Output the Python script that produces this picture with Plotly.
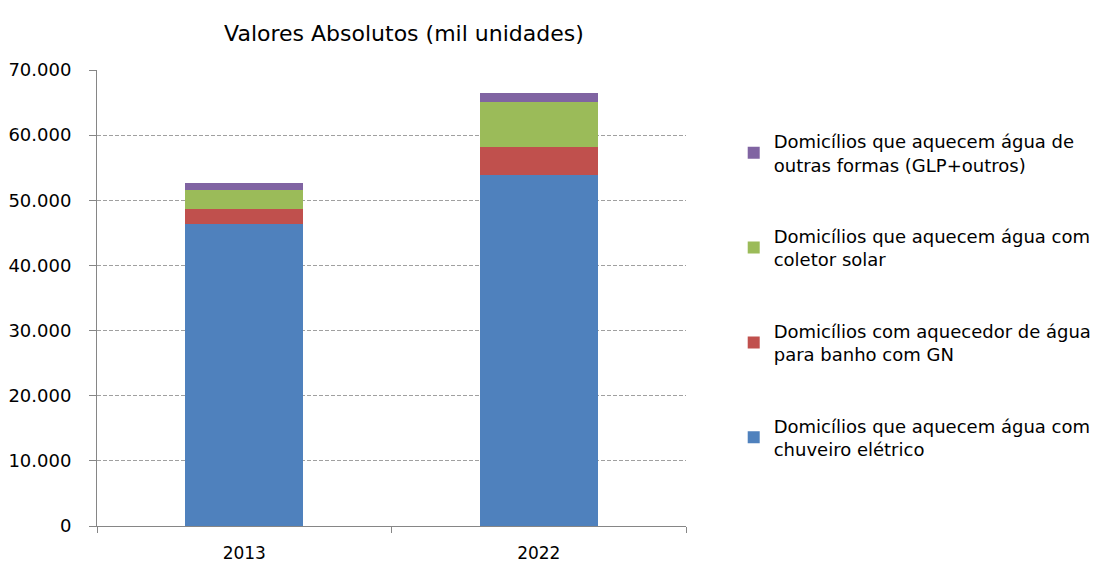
import plotly.graph_objects as go

years = ["2013", "2022"]
series_names = [
    "Domicílios que aquecem água com<br>chuveiro elétrico",
    "Domicílios com aquecedor de água<br>para banho com GN",
    "Domicílios que aquecem água com<br>coletor solar",
    "Domicílios que aquecem água de<br>outras formas (GLP+outros)",
]
chuveiro = [46400, 53850]
gn = [2250, 4300]
solar = [2950, 7000]
outros = [1050, 1300]
colors = ["#4F81BD", "#C0504D", "#9BBB59", "#8064A2"]
legend_ranks = [4, 3, 2, 1]
yticks = [0, 10000, 20000, 30000, 40000, 50000, 60000, 70000]

fig = go.Figure()
for i, (name, vals) in enumerate(zip(series_names, [chuveiro, gn, solar, outros])):
    fig.add_trace(go.Bar(
        x=years, y=vals, name=name, legendgroup=str(i), legendrank=legend_ranks[i],
        marker=dict(color=colors[i], line=dict(width=0)),
    ))

FONT = "DejaVu Sans, sans-serif"
fig.update_layout(
    barmode="stack",
    bargap=0.6,
    width=1095, height=555,
    paper_bgcolor="white", plot_bgcolor="white",
    margin=dict(l=89, r=417, t=62, b=37, autoexpand=False),
    separators=",.",
    font=dict(family=FONT, size=17, color="#000"),
    title=dict(text="Valores Absolutos (mil unidades)", xref="container", x=0.3616,
               xanchor="center", yref="container", y=0.955, yanchor="middle",
               font=dict(size=22, color="#000")),
    legend=dict(x=1.081, xanchor="left", y=0.884, yanchor="top",
                traceorder="grouped", tracegroupgap=45,
                font=dict(size=18), itemwidth=30, bgcolor="rgba(0,0,0,0)"),
    showlegend=True,
)
fig.update_xaxes(
    type="category", tickson="boundaries", ticks="outside", ticklen=6,
    tickcolor="#868686", showline=True, linecolor="#868686", linewidth=1,
    showgrid=False, tickfont=dict(size=17), range=[-0.5, 1.5], ticklabelstandoff=12,
    automargin=False,
)
fig.update_yaxes(
    range=[0, 70001], tickvals=yticks, tickformat=",d", ticks="outside", ticklen=7,
    tickcolor="#868686", showline=True, linecolor="#868686", linewidth=1,
    showgrid=True, gridcolor="#A0A0A0", griddash="4px,2px", gridwidth=1,
    zeroline=False, tickfont=dict(size=18), ticklabelstandoff=14, automargin=False,
)

fig.write_html("out.html")
